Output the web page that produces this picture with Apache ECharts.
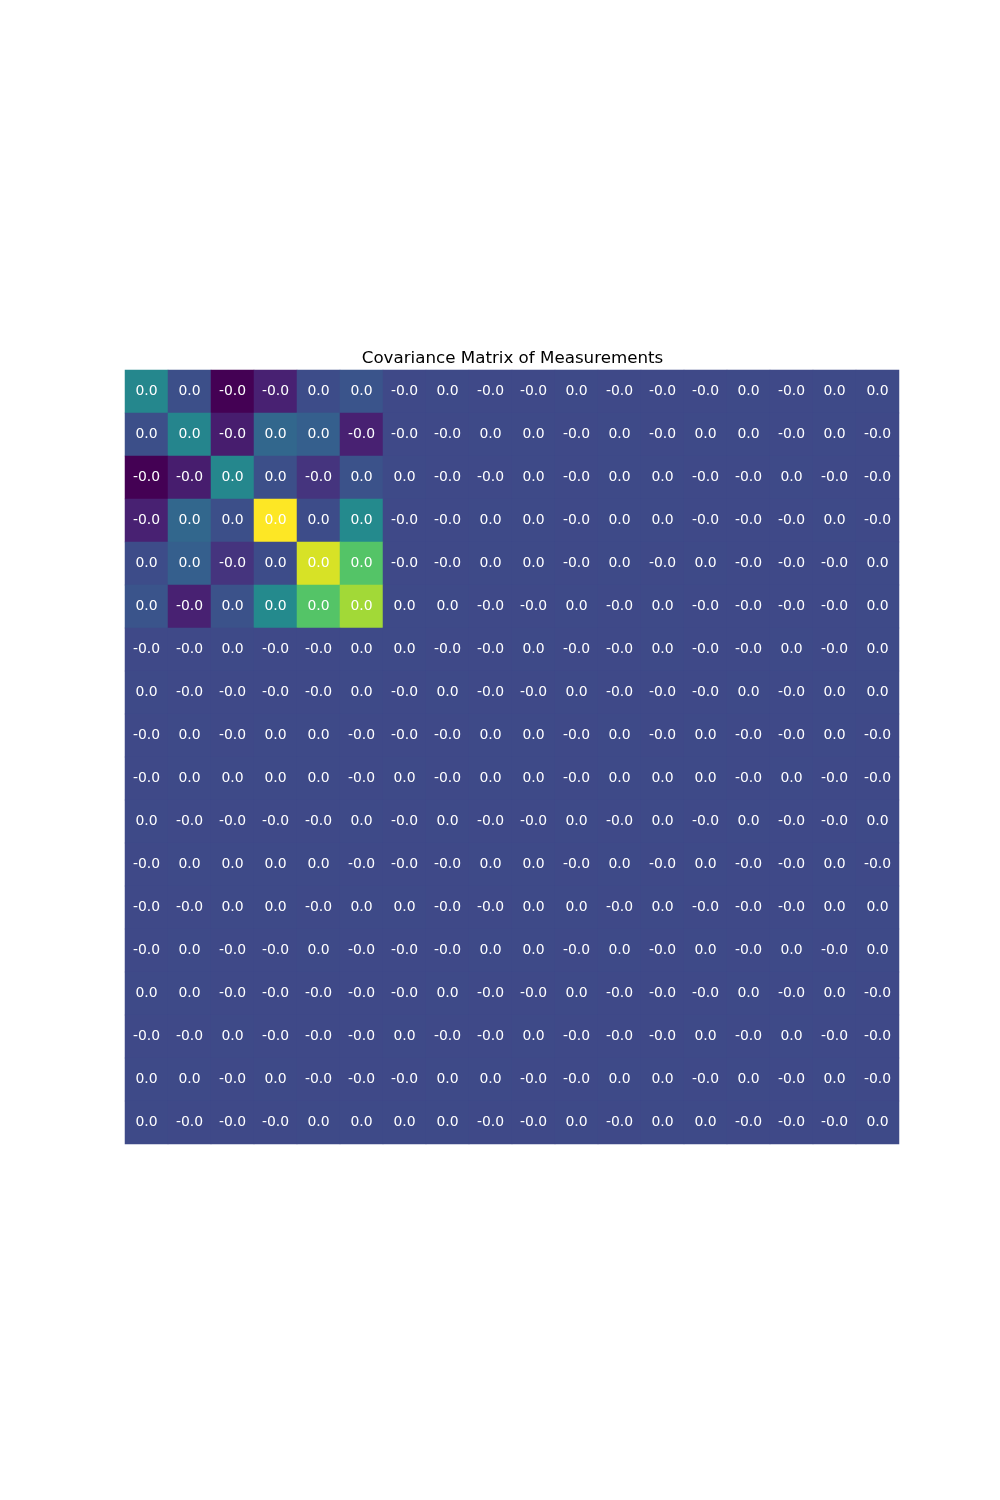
<!DOCTYPE html>
<html>
<head>
<meta charset="utf-8">
<title>Covariance Matrix of Measurements</title>
<script src="https://cdn.jsdelivr.net/npm/echarts@6/dist/echarts.min.js"></script>
<style>
  html, body { margin: 0; padding: 0; background: #fff; }
  #main { width: 1000px; height: 1500px; }
</style>
</head>
<body>
<div id="main"></div>
<script>
// 18 measurements, row/column index
var measures = ['0','1','2','3','4','5','6','7','8','9','10','11','12','13','14','15','16','17'];

// covariance values (tiny values only carry the sign shown in the label)
var covMatrix = [
  [ 0.0024, 0.0002,-0.0022,-0.0013, 0.0001, 0.0004,-1e-5, 1e-5,-1e-5,-1e-5, 1e-5,-1e-5,-1e-5,-1e-5, 1e-5,-1e-5, 1e-5, 1e-5],
  [ 0.0002, 0.0023,-0.0014, 0.0011, 0.0008,-0.0013,-1e-5,-1e-5, 1e-5, 1e-5,-1e-5, 1e-5,-1e-5, 1e-5, 1e-5,-1e-5, 1e-5,-1e-5],
  [-0.0022,-0.0014, 0.0024, 0.0002,-0.0007, 0.0003, 1e-5,-1e-5,-1e-5, 1e-5,-1e-5, 1e-5, 1e-5,-1e-5,-1e-5, 1e-5,-1e-5,-1e-5],
  [-0.0013, 0.0011, 0.0002, 0.0078, 0.0001, 0.0025,-1e-5,-1e-5, 1e-5, 1e-5,-1e-5, 1e-5, 1e-5,-1e-5,-1e-5,-1e-5, 1e-5,-1e-5],
  [ 0.0001, 0.0008,-0.0007, 0.0001, 0.0072, 0.0051,-1e-5,-1e-5, 1e-5, 1e-5,-1e-5, 1e-5,-1e-5, 1e-5,-1e-5,-1e-5,-1e-5, 1e-5],
  [ 0.0004,-0.0013, 0.0003, 0.0025, 0.0051, 0.0064, 1e-5, 1e-5,-1e-5,-1e-5, 1e-5,-1e-5, 1e-5,-1e-5,-1e-5,-1e-5,-1e-5, 1e-5],
  [-1e-5,-1e-5, 1e-5,-1e-5,-1e-5, 1e-5, 1e-5,-1e-5,-1e-5, 1e-5,-1e-5,-1e-5, 1e-5,-1e-5,-1e-5, 1e-5,-1e-5, 1e-5],
  [ 1e-5,-1e-5,-1e-5,-1e-5,-1e-5, 1e-5,-1e-5, 1e-5,-1e-5,-1e-5, 1e-5,-1e-5,-1e-5,-1e-5, 1e-5,-1e-5, 1e-5, 1e-5],
  [-1e-5, 1e-5,-1e-5, 1e-5, 1e-5,-1e-5,-1e-5,-1e-5, 1e-5, 1e-5,-1e-5, 1e-5,-1e-5, 1e-5,-1e-5,-1e-5, 1e-5,-1e-5],
  [-1e-5, 1e-5, 1e-5, 1e-5, 1e-5,-1e-5, 1e-5,-1e-5, 1e-5, 1e-5,-1e-5, 1e-5, 1e-5, 1e-5,-1e-5, 1e-5,-1e-5,-1e-5],
  [ 1e-5,-1e-5,-1e-5,-1e-5,-1e-5, 1e-5,-1e-5, 1e-5,-1e-5,-1e-5, 1e-5,-1e-5, 1e-5,-1e-5, 1e-5,-1e-5,-1e-5, 1e-5],
  [-1e-5, 1e-5, 1e-5, 1e-5, 1e-5,-1e-5,-1e-5,-1e-5, 1e-5, 1e-5,-1e-5, 1e-5,-1e-5, 1e-5,-1e-5,-1e-5, 1e-5,-1e-5],
  [-1e-5,-1e-5, 1e-5, 1e-5,-1e-5, 1e-5, 1e-5,-1e-5,-1e-5, 1e-5, 1e-5,-1e-5, 1e-5,-1e-5,-1e-5,-1e-5, 1e-5, 1e-5],
  [-1e-5, 1e-5,-1e-5,-1e-5, 1e-5,-1e-5,-1e-5,-1e-5, 1e-5, 1e-5,-1e-5, 1e-5,-1e-5, 1e-5,-1e-5, 1e-5,-1e-5, 1e-5],
  [ 1e-5, 1e-5,-1e-5,-1e-5,-1e-5,-1e-5,-1e-5, 1e-5,-1e-5,-1e-5, 1e-5,-1e-5,-1e-5,-1e-5, 1e-5,-1e-5, 1e-5,-1e-5],
  [-1e-5,-1e-5, 1e-5,-1e-5,-1e-5,-1e-5, 1e-5,-1e-5,-1e-5, 1e-5,-1e-5,-1e-5,-1e-5, 1e-5,-1e-5, 1e-5,-1e-5,-1e-5],
  [ 1e-5, 1e-5,-1e-5, 1e-5,-1e-5,-1e-5,-1e-5, 1e-5, 1e-5,-1e-5,-1e-5, 1e-5, 1e-5,-1e-5, 1e-5,-1e-5, 1e-5,-1e-5],
  [ 1e-5,-1e-5,-1e-5,-1e-5, 1e-5, 1e-5, 1e-5, 1e-5,-1e-5,-1e-5, 1e-5,-1e-5, 1e-5, 1e-5,-1e-5,-1e-5,-1e-5, 1e-5]
];

var viridis = ['#440154','#482475','#414487','#355f8d','#2a788e','#21918c',
               '#22a884','#44bf70','#7ad151','#bddf26','#fde725'];

var cells = [];
for (var i = 0; i < covMatrix.length; i++) {
  for (var j = 0; j < covMatrix[i].length; j++) {
    cells.push([j, i, covMatrix[i][j]]);
  }
}

var myChart = echarts.init(document.getElementById('main'));
var option = {
  animation: false,
  // title drawn as a graphic so it can be centred over the grid, not the page
  graphic: [{
    type: 'text',
    x: 512.5,
    y: 359,
    style: {
      text: 'Covariance Matrix of Measurements',
      fontFamily: 'DejaVu Sans',
      fontSize: 16.7,
      fill: '#000',
      textAlign: 'center',
      textVerticalAlign: 'middle'
    }
  }],
  grid: { left: 125, top: 370, width: 774, height: 774 },
  xAxis: { type: 'category', data: measures, show: false },
  yAxis: { type: 'category', data: measures, show: false, inverse: true },
  visualMap: {
    show: false,
    min: -0.0022,
    max: 0.0078,
    dimension: 2,
    inRange: { color: viridis }
  },
  series: [{
    type: 'heatmap',
    data: cells,
    label: {
      show: true,
      color: '#fff',
      fontFamily: 'DejaVu Sans',
      fontSize: 13.9,
      formatter: function (p) { return p.value[2].toFixed(1); }
    },
    itemStyle: { borderWidth: 0 },
    emphasis: { disabled: true }
  }]
};
myChart.setOption(option);
</script>
</body>
</html>
